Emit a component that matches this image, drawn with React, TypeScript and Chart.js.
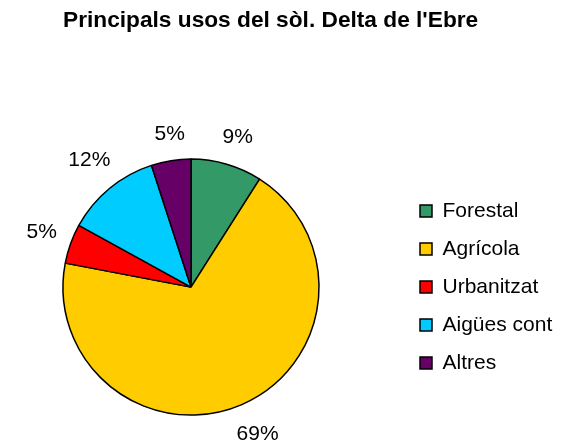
import React, { useEffect, useRef } from 'react';
import { Chart, registerables } from 'chart.js';

Chart.register(...registerables);

const titleText = "Principals usos del sòl. Delta de l'Ebre";
const categories = ['Forestal', 'Agrícola', 'Urbanitzat', 'Aigües cont', 'Altres'];
const shares = [9, 69, 5, 12, 5];
const sliceColors = ['#339966', '#FFCC00', '#FF0000', '#00CCFF', '#660066'];

const FONT = "'Liberation Sans', Arial, sans-serif";
const W = 570;
const H = 441;
const SHIFT = 21; // canvas extends this far to the left of the page
const CW = W + SHIFT;

const outerLabels = {
  id: 'outerLabels',
  afterDatasetsDraw(chart: any) {
    const ctx = chart.ctx as CanvasRenderingContext2D;
    const meta = chart.getDatasetMeta(0);
    const data = chart.data.datasets[0].data as number[];
    const total = data.reduce((a, b) => a + b, 0);
    ctx.save();
    ctx.font = `21px ${FONT}`;
    ctx.fillStyle = '#000';
    ctx.textAlign = 'center';
    ctx.textBaseline = 'middle';
    meta.data.forEach((arc: any, i: number) => {
      const { x, y, startAngle, endAngle, outerRadius } = arc.getProps(
        ['x', 'y', 'startAngle', 'endAngle', 'outerRadius'],
        true
      );
      const mid = (startAngle + endAngle) / 2;
      const ux = Math.cos(mid);
      const uy = Math.sin(mid);
      const text = Math.round((data[i] / total) * 100) + '%';
      const w = ctx.measureText(text).width;
      const h = 15;
      const d = outerRadius + 17 + (Math.abs(ux) * w) / 2 + (Math.abs(uy) * h) / 2;
      ctx.fillText(text, x + ux * d + 3, y + uy * d);
    });
    ctx.restore();
  },
};

export default function App() {
  const ref = useRef<HTMLCanvasElement | null>(null);

  useEffect(() => {
    if (!ref.current) return;
    const m = document.createElement('canvas').getContext('2d')!;
    m.font = `21px ${FONT}`;
    const maxText = Math.max(...categories.map((c) => m.measureText(c).width));
    const legendPad = 17;
    const legendW = legendPad + 12 + 10.5 + maxText + 10;
    const pieCenterX = 191 + SHIFT;
    const legendLeft = 2 * pieCenterX;
    const padRight = CW - legendLeft - legendW;

    const chart = new Chart(ref.current, {
      type: 'pie',
      data: {
        labels: categories,
        datasets: [
          {
            data: shares,
            backgroundColor: sliceColors,
            borderColor: '#000',
            borderWidth: 1.5,
            radius: 128,
          } as any,
        ],
      },
      options: {
        responsive: false,
        animation: false,
        layout: { padding: { left: 0, right: padRight, top: 0, bottom: 0 } },
        plugins: {
          title: {
            display: true,
            text: titleText,
            color: '#000',
            font: { family: FONT, size: 22.7, weight: 'bold', lineHeight: 1.2 },
            padding: { top: 7.5, bottom: 98.5 },
          },
          legend: {
            display: true,
            position: 'right',
            fullSize: false,
            labels: {
              color: '#000',
              font: { family: FONT, size: 21 },
              boxWidth: 12,
              boxHeight: 12,
              padding: legendPad,
            },
          },
          tooltip: { enabled: false },
        },
      } as any,
      plugins: [outerLabels],
    });
    return () => chart.destroy();
  }, []);

  return (
    <div
      style={{
        position: 'absolute',
        left: 0,
        top: 0,
        width: W,
        height: H,
        background: '#fff',
        overflow: 'hidden',
      }}
    >
      <canvas
        ref={ref}
        width={CW}
        height={H}
        style={{ position: 'absolute', left: -SHIFT, top: 0 }}
      />
    </div>
  );
}
